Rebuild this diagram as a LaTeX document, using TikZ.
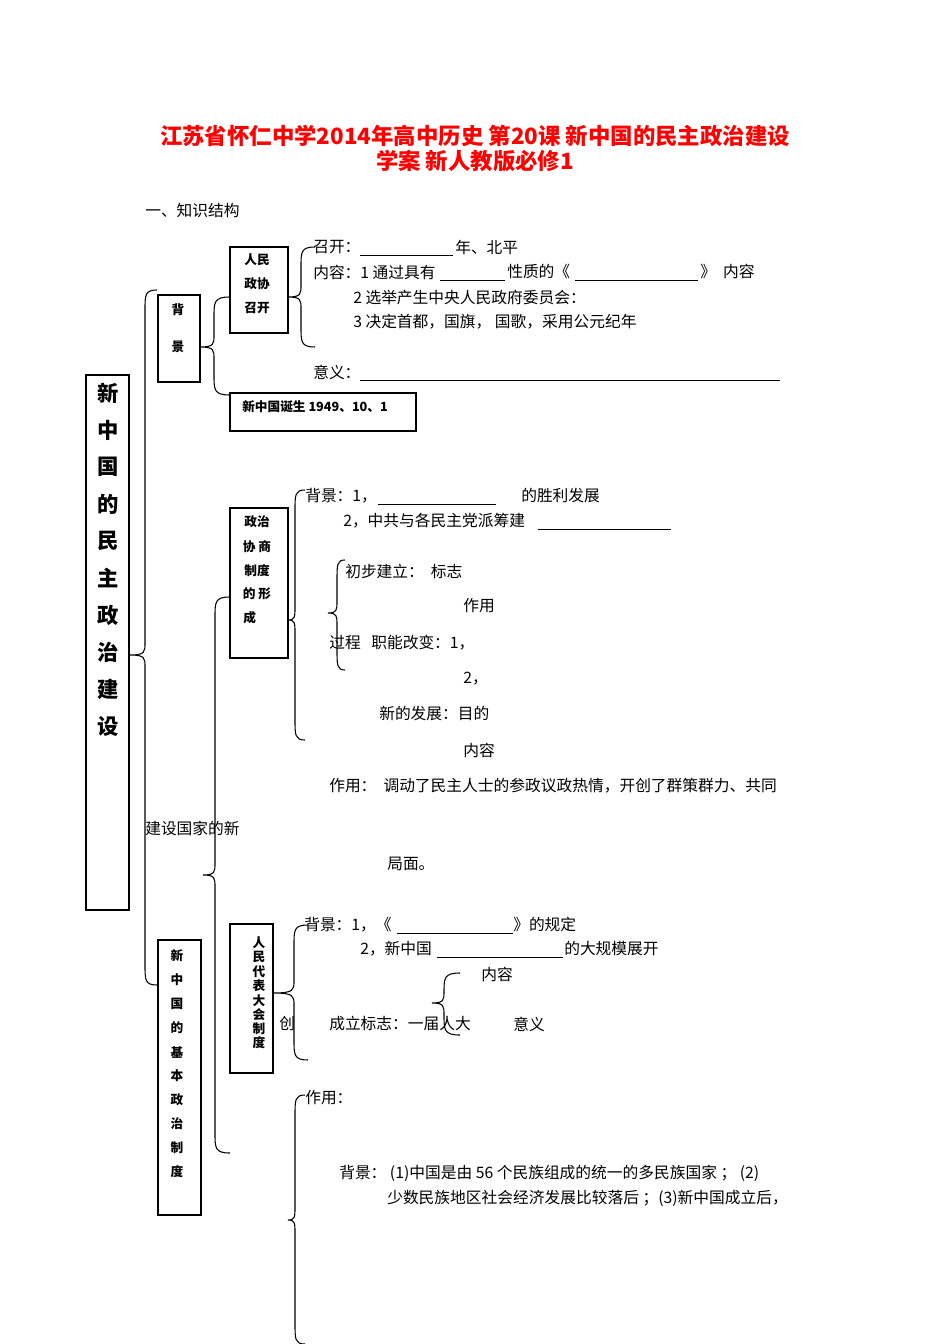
\documentclass[tikz,border=0pt]{standalone}
\usepackage{fontspec}
\setmainfont{Liberation Serif}
\newfontfamily\cjk{Noto Sans CJK SC}
\begin{document}
\begin{tikzpicture}[x=0.75pt,y=-0.75pt,
  tx/.style={anchor=west,inner sep=0pt,font=\cjk\fontsize{11.8}{13}\selectfont},
  bx/.style={draw,line width=0.9pt},
  bt/.style={inner sep=0pt,font=\cjk\bfseries\fontsize{9.5}{11}\selectfont},
  ul/.style={line width=0.6pt},
  br/.style={line width=0.8pt}]
\useasboundingbox (0,0) rectangle (950,1344);
\newcommand\mybr[6]{% #1 tipx #2 vx #3 topx #4 topy #5 tipy #6 boty
  \draw[br] (#3,#4) .. controls (#2,#4) and (#2,#4+5) .. (#2,#4+20) -- (#2,#5-12) .. controls (#2,#5-3) and (#2,#5) .. (#1,#5) .. controls (#2,#5) and (#2,#5+3) .. (#2,#5+12) -- (#2,#6-20) .. controls (#2,#6-5) and (#2,#6) .. (#3,#6);}
% title
\node[inner sep=0pt,text=red,font=\cjk\bfseries\fontsize{16.8}{18}\selectfont] (t1) at (475,136) {江苏省怀仁中学2014年高中历史 第20课 新中国的民主政治建设};
\node[inner sep=0pt,text=red,font=\cjk\bfseries\fontsize{16.8}{18}\selectfont] (t2) at (475,161) {学案 新人教版必修1};
\node[tx] (k) at (145,211) {一、知识结构};
% boxes
\draw[bx] (86,375) rectangle (129,910);
\foreach \c [count=\i from 0] in {新,中,国,的,民,主,政,治,建,设}
  \node[inner sep=0pt,font=\cjk\bfseries\fontsize{16}{18}\selectfont] at (108,393+37*\i) {\c};
\draw[bx] (158,295) rectangle (200,382);
\node[bt] at (178,310) {背}; \node[bt] at (178,347) {景};
\draw[bx] (230,247) rectangle (288,333);
\node[bt] at (257,260) {人民}; \node[bt] at (257,284) {政协}; \node[bt] at (257,308) {召开};
\draw[bx] (230,393) rectangle (416,431);
\node[bt,anchor=west] at (242,407) {新中国诞生 1949、10、1};
\draw[bx] (230,508) rectangle (288,658);
\node[bt] at (257,522) {政治}; \node[bt] at (257,547) {协 商}; \node[bt] at (257,571) {制度};
\node[bt] at (257,594) {的 形}; \node[bt,anchor=west] at (243,618) {成};
\draw[bx] (230,924) rectangle (273,1073);
\foreach \c [count=\i from 0] in {人,民,代,表,大,会,制,度}
  \node[bt] at (259,943+14.3*\i) {\c};
\draw[bx] (158,940) rectangle (201,1215);
\foreach \c [count=\i from 0] in {新,中,国,的,基,本,政,治,制,度}
  \node[bt] at (177,956+24*\i) {\c};
% braces
\mybr{130}{145}{157}{290}{655}{985}
\mybr{200}{214}{230}{297}{347}{395}
\mybr{288}{301}{315}{247}{297}{347}
\mybr{203}{215}{230}{597}{875}{1153}
\mybr{288}{295}{305}{490}{620}{740}
\mybr{328}{337}{345}{560}{613}{670}
\mybr{273}{294}{308}{925}{993}{1060}
\mybr{432}{444}{460}{973}{1003}{1035}
\mybr{288}{295}{305}{1095}{1220}{1344}
% texts
\node[tx] at (313,247) {召开：}; \draw[ul] (360,255) -- (453,255); \node[tx] at (455,247) {年、北平};
\node[tx] at (313,272) {内容：1 通过具有}; \draw[ul] (440,280) -- (505,280);
\node[tx] at (507,272) {性质的《}; \draw[ul] (575,280) -- (698,280); \node[tx] at (700,272) {》\ \ 内容};
\node[tx] at (353,297) {2 选举产生中央人民政府委员会：};
\node[tx] at (353,322) {3 决定首都，国旗，\ 国歌，采用公元纪年};
\node[tx] at (313,372) {意义：}; \draw[ul] (360,380) -- (780,380);
\node[tx] at (305,496) {背景：1，}; \draw[ul] (378,504) -- (496,504); \node[tx] at (521,496) {的胜利发展};
\node[tx] at (343,521) {2，中共与各民主党派筹建}; \draw[ul] (538,529) -- (671,529);
\node[tx] at (345,571) {初步建立：\ \ 标志};
\node[tx] at (463,606) {作用};
\node[tx] at (329,643) {过程\ \ \ 职能改变：1，};
\node[tx] at (463,679) {2，};
\node[tx] at (379,714) {新的发展：目的};
\node[tx] at (463,750) {内容};
\node[tx] at (329,786) {作用：\ \ 调动了民主人士的参政议政热情，开创了群策群力、共同};
\node[tx] at (145,828) {建设国家的新};
\node[tx] at (387,864) {局面。};
\node[tx] at (304,925) {背景：1，《}; \draw[ul] (397,933) -- (513,933); \node[tx] at (513,925) {》的规定};
\node[tx] at (360,949) {2，新中国}; \draw[ul] (437,957) -- (563,957); \node[tx] at (564,949) {的大规模展开};
\node[tx] at (481,974) {内容};
\node[tx] at (279,1024) {创};
\node[tx] at (329,1024) {成立标志：一届人大};
\node[tx] at (513,1024) {意义};
\node[tx] at (305,1098) {作用：};
\node[tx] at (339,1173) {背景：\ (1)中国是由 56 个民族组成的统一的多民族国家\ ；\ (2)};
\node[tx] at (387,1198) {少数民族地区社会经济发展比较落后\ ；(3)新中国成立后，};
\end{tikzpicture}
\end{document}
